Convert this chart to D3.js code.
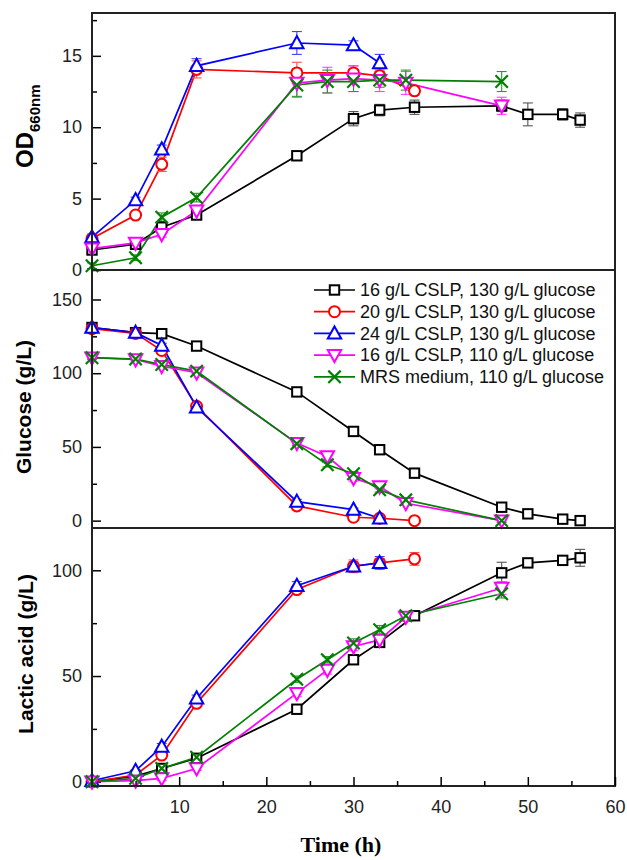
<!DOCTYPE html>
<html>
<head>
<meta charset="utf-8">
<script src="https://cdn.jsdelivr.net/npm/d3@7"></script>
<style>
  body { margin: 0; background: #fff; }
  svg { display: block; font-family: Arial, "Liberation Sans", sans-serif; }
</style>
</head>
<body>
<svg id="chart" width="627" height="860"></svg>
<script>
// time points (h)
var tBlack = [0, 5, 8, 12, 23.5, 30, 33, 37, 47, 50, 54, 56];
var tRed = [0, 5, 8, 12, 23.5, 30, 33, 37];
var tBlue = [0, 5, 8, 12, 23.5, 30, 33];
var tMag = [0, 5, 8, 12, 23.5, 27, 30, 33, 36, 47];
var tGreen = [0, 5, 8, 12, 23.5, 27, 30, 33, 36, 47];

// OD660nm
var odBlack = [1.4, 1.8, 3.0, 3.85, 8.0, 10.6, 11.2, 11.4, 11.5, 10.9, 10.9, 10.5];
var odRed = [2.2, 3.85, 7.4, 14.05, 13.8, 13.8, 13.6, 12.55];
var odBlue = [2.3, 4.9, 8.45, 14.3, 15.9, 15.75, 14.5];
var odMag = [1.5, 1.9, 2.5, 4.15, 13.1, 13.3, 13.4, 13.3, 13.1, 11.5];
var odGreen = [0.3, 0.86, 3.7, 5.07, 12.96, 13.2, 13.2, 13.3, 13.3, 13.2];
var odBlackErr = [0.2, 0.2, 0.3, 0.3, 0.2, 0.5, 0.4, 0.5, 0.4, 0.8, 0.4, 0.5];
var odRedErr = [0.2, 0.2, 0.5, 0.6, 0.75, 0.5, 0.4, 0.3];
var odBlueErr = [0.2, 0.2, 0.3, 0.5, 0.8, 0.3, 0.6];
var odMagErr = [0.2, 0.2, 0.2, 0.3, 1.0, 0.9, 0.9, 0.8, 0.8, 0.6];
var odGreenErr = [0.2, 0.2, 0.3, 0.3, 0.8, 0.8, 0.7, 0.5, 0.7, 0.7];

// glucose (g/L)
var glcBlack = [131, 127.5, 126.8, 118.4, 87.3, 60.5, 48.1, 32.2, 9.1, 4.6, 1, 0];
var glcRed = [130.2, 127, 115.4, 77.6, 10, 2.3, 1.6, 0];
var glcBlue = [131, 127.5, 118.8, 76.9, 12.9, 7.5, 1.6];
var glcMag = [110.5, 109.3, 104.8, 100.3, 52.6, 43.5, 28.8, 23.1, 11.8, 0];
var glcGreen = [110.5, 109.6, 105.9, 101.4, 52.2, 37.9, 31.8, 20.9, 14.1, 0];
var glcBlackErr = [1, 1, 1, 2, 1, 1, 1, 2, 2, 1.5, 1, 0.5];
var glcRedErr = [1.5, 1, 2, 2, 2, 1, 1, 0.5];
var glcBlueErr = [1, 1, 1.5, 1.5, 1.5, 1, 1];
var glcMagErr = [1, 1.5, 1.5, 1.5, 1.5, 2, 2, 1.5, 1.5, 1];
var glcGreenErr = [1, 1, 1.5, 1.5, 1.5, 1.5, 1.5, 1.5, 1.5, 1];

// lactic acid (g/L)
var laBlack = [0, 2.7, 6.3, 11.1, 34.3, 57.7, 65.9, 78.5, 98.8, 103.5, 104.7, 105.9];
var laRed = [0, 3.2, 12.6, 37.1, 90.9, 101.9, 103.5, 105.4];
var laBlue = [0.5, 5.2, 16.6, 39.5, 92.7, 101.9, 103.5];
var laMag = [0, 0.5, 1.6, 6.3, 41.9, 52.9, 64, 67.1, 77.9, 91.6];
var laGreen = [0, 1.6, 6.3, 11.6, 48.5, 57.7, 65.6, 71.9, 78.5, 88.9];
var laBlackErr = [0.5, 0.5, 1, 1, 1, 1.5, 2, 1.5, 5, 1.5, 2, 4];
var laRedErr = [0.5, 0.5, 1.5, 1.5, 1.5, 3, 2, 3];
var laBlueErr = [0.5, 0.5, 1.5, 1.5, 2, 2, 3];
var laMagErr = [0.5, 0.5, 1, 1, 1.5, 2, 2, 2, 2, 3];
var laGreenErr = [0.5, 0.5, 1, 1, 1.5, 1.5, 2, 2, 2, 2];

var seriesNames = ["16 g/L CSLP, 130 g/L glucose", "20 g/L CSLP, 130 g/L glucose",
  "24 g/L CSLP, 130 g/L glucose", "16 g/L CSLP, 110 g/L glucose", "MRS medium, 110 g/L glucose"];
var colors = ["#000000", "#ff0000", "#0000ff", "#ff00ff", "#008000"];
var errColors = ["#555555", "#ff5050", "#4040ff", "#ff40ff", "#2a9a2a"];
var shapes = ["square", "circle", "triangle", "down", "cross"];

var times = [tBlack, tRed, tBlue, tMag, tGreen];
var odVals = [odBlack, odRed, odBlue, odMag, odGreen];
var odErrs = [odBlackErr, odRedErr, odBlueErr, odMagErr, odGreenErr];
var glcVals = [glcBlack, glcRed, glcBlue, glcMag, glcGreen];
var glcErrs = [glcBlackErr, glcRedErr, glcBlueErr, glcMagErr, glcGreenErr];
var laVals = [laBlack, laRed, laBlue, laMag, laGreen];
var laErrs = [laBlackErr, laRedErr, laBlueErr, laMagErr, laGreenErr];

var svg = d3.select("#chart");
var left = 92, right = 615;

var x = d3.scaleLinear().domain([0, 60]).range([left, right]);

var panels = [
  { top: 13, bottom: 270, domain: [0, 18], major: [0, 5, 10, 15], minor: [2.5, 7.5, 12.5, 17.5], vals: odVals, errs: odErrs },
  { top: 270, bottom: 528, domain: [-5, 170], major: [0, 50, 100, 150], minor: [25, 75, 125], vals: glcVals, errs: glcErrs },
  { top: 528, bottom: 786, domain: [-2, 120], major: [0, 50, 100], minor: [25, 75], vals: laVals, errs: laErrs }
];

function marker(sel, shape, color) {
  if (shape === "square") {
    sel.append("rect").attr("x", -4.7).attr("y", -4.7).attr("width", 9.4).attr("height", 9.4)
      .attr("fill", "#fff").attr("stroke", color).attr("stroke-width", 2);
  } else if (shape === "circle") {
    sel.append("circle").attr("r", 5.5).attr("fill", "#fff").attr("stroke", color).attr("stroke-width", 2);
  } else if (shape === "triangle") {
    sel.append("path").attr("d", "M0,-7L6.7,5.2L-6.7,5.2Z")
      .attr("fill", "#fff").attr("stroke", color).attr("stroke-width", 2);
  } else if (shape === "down") {
    sel.append("path").attr("d", "M0,7L6.7,-5.2L-6.7,-5.2Z")
      .attr("fill", "#fff").attr("stroke", color).attr("stroke-width", 2);
  } else {
    sel.append("path").attr("d", "M-6.2,-6.2L6.2,6.2M-6.2,6.2L6.2,-6.2")
      .attr("fill", "none").attr("stroke", color).attr("stroke-width", 2.2);
  }
}

panels.forEach(function(p, pi) {
  var y = d3.scaleLinear().domain(p.domain).range([p.bottom, p.top]);
  var g = svg.append("g");

  // y axis, inward ticks
  g.append("g")
    .attr("transform", "translate(" + left + ",0)")
    .call(d3.axisLeft(y).tickValues(p.minor).tickSize(-5).tickFormat(""))
    .call(function(a) { a.select(".domain").remove(); })
    .selectAll("line").attr("stroke-width", 1.5);
  var ya = g.append("g")
    .attr("transform", "translate(" + left + ",0)")
    .call(d3.axisLeft(y).tickValues(p.major).tickSize(-9).tickPadding(10));
  ya.select(".domain").remove();
  ya.selectAll("line").attr("stroke-width", 1.5);
  ya.selectAll("text").attr("font-size", 18).attr("fill", "#222")
    .attr("font-family", "Arial, 'Liberation Sans', sans-serif");

  // lines
  p.vals.forEach(function(vals, si) {
    var pts = vals.map(function(v, i) { return [times[si][i], v]; });
    g.append("path")
      .datum(pts)
      .attr("fill", "none")
      .attr("stroke", colors[si])
      .attr("stroke-width", 1.7)
      .attr("d", d3.line().x(function(d) { return x(d[0]); }).y(function(d) { return y(d[1]); }));
  });

  // error bars, then markers on top
  p.vals.forEach(function(vals, si) {
    vals.forEach(function(v, i) {
      var e = p.errs[si][i];
      var cx = x(times[si][i]);
      var eb = g.append("g").attr("stroke", errColors[si]).attr("stroke-width", 1.1);
      eb.append("line").attr("x1", cx).attr("x2", cx).attr("y1", y(v - e)).attr("y2", y(v + e));
      eb.append("line").attr("x1", cx - 5).attr("x2", cx + 5).attr("y1", y(v + e)).attr("y2", y(v + e));
      eb.append("line").attr("x1", cx - 5).attr("x2", cx + 5).attr("y1", y(v - e)).attr("y2", y(v - e));
    });
  });
  p.vals.forEach(function(vals, si) {
    vals.forEach(function(v, i) {
      var m = g.append("g").attr("transform", "translate(" + x(times[si][i]) + "," + y(v) + ")");
      marker(m, shapes[si], colors[si]);
    });
  });

  // frame
  g.append("rect")
    .attr("x", left).attr("y", p.top)
    .attr("width", right - left).attr("height", p.bottom - p.top)
    .attr("fill", "none").attr("stroke", "#222").attr("stroke-width", 2);
});

// x axis on bottom panel
svg.append("g")
  .attr("transform", "translate(0,786)")
  .call(d3.axisBottom(x).tickValues([5, 15, 25, 35, 45, 55]).tickSize(-5).tickFormat(""))
  .call(function(a) { a.select(".domain").remove(); })
  .selectAll("line").attr("stroke-width", 1.5);
var xa = svg.append("g")
  .attr("transform", "translate(0,786)")
  .call(d3.axisBottom(x).tickValues([10, 20, 30, 40, 50, 60]).tickSize(-9).tickPadding(14));
xa.select(".domain").remove();
xa.selectAll("line").attr("stroke-width", 1.5);
xa.selectAll("text").attr("font-size", 18).attr("fill", "#222")
  .attr("font-family", "Arial, 'Liberation Sans', sans-serif");

// axis titles
svg.append("text")
  .attr("x", 341).attr("y", 852)
  .attr("text-anchor", "middle")
  .attr("font-family", "'Times New Roman', 'Liberation Serif', serif")
  .attr("font-weight", "bold").attr("font-size", 22)
  .text("Time (h)");

var od = svg.append("text")
  .attr("transform", "translate(33,168) rotate(-90)")
  .attr("font-weight", "bold").attr("font-size", 24);
od.append("tspan").text("OD");
od.append("tspan").attr("font-size", 15).attr("dy", 7).text("660nm");

svg.append("text")
  .attr("transform", "translate(31,407) rotate(-90)")
  .attr("text-anchor", "middle")
  .attr("font-weight", "bold").attr("font-size", 21)
  .text("Glucose (g/L)");

svg.append("text")
  .attr("transform", "translate(33,654) rotate(-90)")
  .attr("text-anchor", "middle")
  .attr("font-weight", "bold").attr("font-size", 21)
  .text("Lactic acid (g/L)");

// legend
var legend = svg.append("g");
seriesNames.forEach(function(name, i) {
  var ly = 290 + i * 21.7;
  legend.append("line").attr("x1", 314).attr("x2", 355).attr("y1", ly).attr("y2", ly)
    .attr("stroke", colors[i]).attr("stroke-width", 1.7);
  var m = legend.append("g").attr("transform", "translate(334.5," + ly + ")");
  marker(m, shapes[i], colors[i]);
  legend.append("text").attr("x", 360).attr("y", ly).attr("dy", "0.35em")
    .attr("font-size", 18).attr("fill", "#111").text(name);
});
</script>
</body>
</html>
